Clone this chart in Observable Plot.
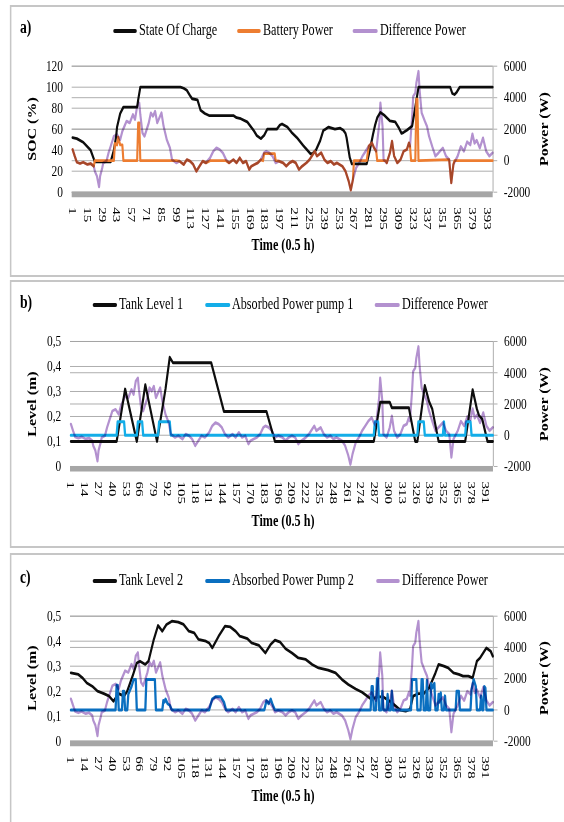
<!DOCTYPE html>
<html><head><meta charset="utf-8">
<script src="https://cdn.jsdelivr.net/npm/d3@7"></script>
<script src="https://cdn.jsdelivr.net/npm/@observablehq/plot@0.6"></script>
<style>
html,body{margin:0;padding:0;background:#fff;width:564px;height:822px;overflow:hidden;}
#wrap{position:absolute;left:0;top:0;width:742px;height:822px;transform:scaleX(0.76);transform-origin:0 0;font-family:"Liberation Serif","Times New Roman",serif;color:#000;}
.box{position:absolute;border:2px solid #c6c6c6;box-sizing:border-box;}
.abs{position:absolute;white-space:nowrap;}
.leg{position:absolute;height:4px;border-radius:2px;}
.lt{position:absolute;white-space:nowrap;font-size:16px;line-height:18px;}
.ttl{position:absolute;white-space:nowrap;font-weight:bold;font-size:16px;line-height:18px;}
</style></head>
<body><div id="wrap"></div>
<script>
// ---------------- data ----------------
const xTicksA = [1,15,29,43,57,71,85,99,113,127,141,155,169,183,197,211,225,239,253,267,281,295,309,323,337,351,365,379,393];
const xTicksBC = [1,14,27,40,53,66,79,92,105,118,131,144,157,170,183,196,209,222,235,248,261,274,287,300,313,326,339,352,365,378,391];
const socTicks = [0,20,40,60,80,100,120];
const levelTicks = [0,0.1,0.2,0.3,0.4,0.5];
const powerTicks = [-2000,0,2000,4000,6000];

// Difference Power (W), shared by the three panels
const diffPower = [[1,710],[3,290],[5,-100],[8,-180],[11,-100],[15,-240],[18,-180],[21,-350],[22,-670],[24,-980],[26,-1660],[27,-980],[29,-460],[30,-140],[33,-30],[35,500],[37,920],[40,1550],[43,1660],[46,1340],[48,1870],[50,2190],[52,2510],[55,2400],[58,2930],[60,2610],[62,3460],[64,3670],[65,2930],[67,1770],[69,1550],[73,2400],[75,3040],[77,2820],[79,3140],[81,2400],[83,2720],[85,3040],[87,2190],[90,1340],[93,810],[95,70],[99,-140],[102,-30],[106,-240],[109,70],[112,-30],[115,-240],[118,-670],[121,-350],[124,-30],[127,-140],[131,180],[134,600],[137,810],[140,710],[143,500],[146,70],[149,-140],[153,70],[156,-140],[159,180],[162,-140],[165,-30],[168,-560],[170,-350],[173,-240],[176,-140],[179,70],[182,500],[184,600],[187,500],[190,290],[193,-140],[196,-30],[200,-140],[203,-350],[206,-140],[209,-30],[212,-140],[215,-560],[218,-350],[222,-140],[225,70],[228,390],[230,600],[232,290],[236,500],[239,70],[242,-140],[245,-30],[248,-240],[251,-140],[256,-350],[259,-670],[262,-1300],[264,-1870],[266,-1200],[269,-460],[272,-140],[275,290],[278,600],[281,920],[284,1130],[286,810],[288,600],[291,2400],[292,3670],[294,2190],[295,70],[298,-140],[301,500],[303,1240],[305,290],[308,-140],[311,70],[314,600],[317,710],[319,1130],[320,920],[322,2820],[323,4090],[325,4310],[326,4940],[328,5680],[329,4520],[331,3040],[334,2510],[336,2190],[338,1550],[341,900],[344,290],[347,500],[351,810],[354,290],[357,70],[359,-1410],[361,-240],[365,290],[368,900],[371,600],[374,1200],[377,1000],[379,1700],[381,1100],[383,1300],[386,800],[389,1450],[392,600],[395,290],[398,500]];

// a) State of charge (%)
const soc = [[1,52],[5,51],[11,47.6],[18,40],[22,29],[37,29],[40,40],[42,52],[43,62],[46,75],[49,81],[62,81],[63,88],[65,100],[103,100],[106,99],[109,97],[112,92],[114,89],[119,88],[122,78],[126,75],[130,73],[147,73],[153,73],[156,71],[160,70],[166,67],[172,59],[175,54],[179,51],[182,54],[185,60],[194,60],[197,64],[199,65],[204,62],[208,57],[213,52],[219,44.5],[226,36.5],[228,37],[231,40],[235,49],[238,58.7],[240,60],[243,62],[249,60],[254,61],[257,59],[259,56],[260,52],[263,33],[265,27],[279,27],[282,40],[285,55],[287,64],[289,71],[292,76],[296,73],[301,68],[306,67],[309,62],[312,56],[314,57],[317,59],[322,63],[325,81],[328,100],[358,100],[360,94],[362,93],[364,95],[367,100],[398,100]];

// a) Battery power (W)
const batteryPower = [[1,710],[3,290],[5,-100],[8,-180],[11,-100],[15,-240],[18,-180],[21,-350],[22,0],[40,0],[41,1100],[43,1000],[44,1500],[46,1000],[48,1000],[49,0],[62,0],[63,2400],[64,2400],[65,0],[99,0],[102,-30],[106,-240],[109,70],[112,-30],[115,-240],[118,-670],[121,-350],[124,-30],[127,-140],[131,0],[146,0],[149,-140],[153,70],[156,-140],[159,180],[162,-140],[165,-30],[168,-560],[170,-350],[173,-240],[176,-140],[179,70],[181,0],[182,450],[192,450],[193,0],[196,-30],[200,-140],[203,-350],[206,-140],[209,-30],[212,-140],[215,-560],[218,-350],[222,-140],[225,70],[228,390],[230,600],[232,290],[236,500],[239,70],[242,-140],[245,-30],[248,-240],[251,-140],[256,-350],[259,-670],[262,-1300],[264,-1870],[266,-1200],[267,0],[279,0],[281,920],[284,1130],[286,810],[288,600],[289,0],[297,0],[298,-140],[301,500],[303,1240],[305,290],[308,-140],[311,70],[314,600],[317,710],[319,1130],[320,920],[321,0],[325,0],[326,3900],[327,3900],[328,0],[357,70],[359,-1410],[361,-240],[362,0],[398,0]];

// b) Tank level 1 (m) and pump 1 power (W)
const tank1 = [[1,0.1],[44,0.1],[52,0.31],[63,0.1],[71,0.327],[82,0.1],[90,0.31],[94,0.437],[97,0.415],[133,0.415],[145,0.22],[185,0.22],[193,0.1],[286,0.1],[292,0.257],[301,0.257],[303,0.235],[319,0.235],[325,0.1],[327,0.1],[334,0.324],[338,0.26],[341,0.23],[347,0.1],[372,0.1],[379,0.307],[383,0.23],[385,0.204],[388,0.19],[393,0.1],[398,0.1]];
const pump1 = [[1,0],[44,0],[45,870],[51,870],[52,0],[63,0],[64,870],[68,870],[69,0],[83,0],[84,870],[94,870],[95,0],[286,0],[287,870],[290,870],[291,0],[327,0],[328,870],[333,870],[334,0],[351,0],[352,870],[353,0],[372,0],[373,870],[377,870],[378,0],[398,0]];

// c) Tank level 2 (m) and pump 2 power (W)
const tank2 = [[1,0.273],[8,0.267],[12,0.253],[16,0.233],[21,0.22],[26,0.2],[32,0.19],[37,0.18],[41,0.16],[46,0.19],[51,0.18],[54,0.2],[59,0.26],[63,0.313],[66,0.32],[71,0.307],[74,0.32],[79,0.407],[83,0.463],[87,0.44],[91,0.467],[96,0.48],[102,0.476],[107,0.467],[112,0.44],[117,0.433],[121,0.407],[128,0.4],[131,0.393],[134,0.373],[140,0.42],[146,0.46],[151,0.457],[156,0.44],[160,0.42],[167,0.41],[171,0.393],[178,0.383],[184,0.353],[189,0.387],[193,0.404],[198,0.396],[203,0.37],[209,0.353],[215,0.333],[222,0.327],[228,0.307],[234,0.293],[243,0.284],[250,0.273],[256,0.247],[262,0.227],[269,0.209],[275,0.196],[280,0.18],[284,0.167],[289,0.177],[295,0.177],[301,0.16],[306,0.143],[311,0.124],[316,0.12],[320,0.127],[323,0.18],[328,0.19],[333,0.19],[338,0.213],[344,0.273],[347,0.307],[352,0.3],[356,0.293],[361,0.273],[366,0.267],[370,0.26],[375,0.26],[379,0.253],[383,0.32],[386,0.333],[389,0.353],[392,0.373],[396,0.36],[398,0.34]];
const pump2 = [[1,0],[43,0],[44,1580],[45,1580],[46,0],[49,0],[50,1200],[51,1200],[52,0],[54,0],[55,1000],[58,1500],[60,1950],[62,1950],[63,0],[71,0],[72,1950],[80,1950],[81,0],[87,0],[88,600],[89,500],[90,700],[92,400],[94,300],[96,0],[131,0],[134,700],[137,840],[142,840],[145,500],[147,0],[183,0],[185,600],[187,400],[189,700],[191,300],[193,0],[283,0],[284,1500],[285,1500],[286,0],[288,0],[289,2000],[290,2000],[291,0],[293,0],[294,1200],[295,0],[298,0],[299,1000],[300,0],[302,0],[303,1200],[304,0],[321,0],[322,1950],[326,1950],[327,0],[330,0],[331,1950],[332,1950],[333,0],[335,0],[336,1900],[337,0],[339,0],[340,1700],[341,1400],[343,1700],[344,0],[346,0],[347,1000],[348,500],[349,1100],[350,0],[352,0],[353,900],[354,0],[363,0],[364,1200],[366,1200],[367,0],[377,0],[378,1300],[380,1950],[382,1500],[383,0],[386,0],[387,900],[388,0],[389,0],[390,1500],[391,1400],[392,0],[398,0]];

// ---------------- layout ----------------
const SX = 0.76, W = 564 / SX;
const ux = x => x / SX;
const xDomain = [0.5, 398.5];
const GRID = "#a3a3a3";
const C = {black:"#0d0d0d", orange:"#ED7D31", purple:"#B391CF", cyan:"#13ADE8", blue:"#0A6FC0"};

const wrap = document.getElementById("wrap");
function el(cls, css, html) {
  const d = document.createElement("div");
  d.className = cls; d.style.cssText = css; if (html != null) d.innerHTML = html;
  wrap.appendChild(d); return d;
}

const panels = [
  {tag:"a)", boxTop:5, boxH:272, tagY:27, legY:31,
   legend:[["State Of Charge",C.black,113,137,139],["Battery Power",C.orange,237,261,263],["Difference Power",C.purple,353,378,380]],
   leftTitle:"SOC (%)", svgTop:40, svgH:200, fTop:65.7, fBot:191.7, left:71.7, right:492.7,
   yMax:120, leftTicks:socTicks, leftFmt:d=>String(d), xTicks:xTicksA, timeY:245},
  {tag:"b)", boxTop:280, boxH:268, tagY:302, legY:305,
   legend:[["Tank Level 1",C.black,93,117,119],["Absorbed Power pump 1",C.cyan,205,230,232],["Difference Power",C.purple,375,400,402]],
   leftTitle:"Level (m)", svgTop:320, svgH:190, fTop:341, fBot:466, left:70, right:493,
   yMax:0.5, leftTicks:levelTicks, leftFmt:d=>d===0?"0":d.toFixed(1).replace(".",","), xTicks:xTicksBC, timeY:521},
  {tag:"c)", boxTop:553, boxH:290, tagY:577, legY:581,
   legend:[["Tank Level 2",C.black,93,117,119],["Absorbed Power Pump 2",C.blue,205,230,232],["Difference Power",C.purple,376,400,402]],
   leftTitle:"Level (m)", svgTop:595, svgH:190, fTop:615.7, fBot:740.7, left:70, right:493,
   yMax:0.5, leftTicks:levelTicks, leftFmt:d=>d===0?"0":d.toFixed(1).replace(".",","), xTicks:xTicksBC, timeY:796}
];

panels.forEach((p, k) => {
  el("box", `left:${ux(10)}px;top:${p.boxTop}px;width:${W+20}px;height:${p.boxH}px;`);
  el("ttl", `left:${ux(20)}px;top:${p.tagY-10}px;font-size:18px;line-height:20px;`, p.tag);
  p.legend.forEach(([name, col, x1, x2, tx]) => {
    el("leg", `left:${ux(x1)}px;top:${p.legY-2}px;width:${ux(x2)-ux(x1)}px;background:${col};`);
    el("lt", `left:${ux(tx)}px;top:${p.legY-10}px;`, name);
  });
  const cy = (p.fTop + p.fBot) / 2;
  el("ttl", `left:${ux(32)-60}px;top:${cy-9}px;width:120px;text-align:center;transform:rotate(-90deg);`, p.leftTitle);
  el("ttl", `left:${ux(544)-60}px;top:${cy-9}px;width:120px;text-align:center;transform:rotate(-90deg);`, "Power (W)");
  el("ttl", `left:${ux(283)-80}px;top:${p.timeY-9}px;width:160px;text-align:center;`, "Time (0.5 h)");

  const toLeft = P => (P + 2000) / 8000 * p.yMax;
  const rightTicks = powerTicks.map(toLeft);
  const line = (data, stroke, extra = {}) => Plot.line(data, {x: d => d[0], y: d => extra.power ? toLeft(d[1]) : d[1], stroke, strokeWidth: 2.8, strokeLinejoin: "round", strokeLinecap: "round", ...extra.opts});

  let series;
  if (k === 0) {
    series = [
      line(soc, C.black),
      line(batteryPower, C.orange, {power:true}),
      line(diffPower, C.purple, {power:true, opts:{mixBlendMode:"multiply"}})
    ];
  } else if (k === 1) {
    series = [
      line(tank1, C.black),
      line(pump1, C.cyan, {power:true, opts:{strokeWidth:3}}),
      line(diffPower, C.purple, {power:true, opts:{mixBlendMode:"multiply"}})
    ];
  } else {
    series = [
      line(tank2, C.black),
      line(pump2, C.blue, {power:true, opts:{strokeWidth:3}}),
      line(diffPower, C.purple, {power:true, opts:{mixBlendMode:"multiply"}})
    ];
  }

  const svg = Plot.plot({
    width: W, height: p.svgH,
    marginTop: p.fTop - p.svgTop, marginBottom: p.svgTop + p.svgH - p.fBot,
    marginLeft: ux(p.left), marginRight: W - ux(p.right),
    style: {fontFamily: "'Liberation Serif','Times New Roman',serif", fontSize: "15px", background: "transparent", overflow: "visible", color: "#000"},
    x: {domain: xDomain, axis: null},
    y: {domain: [0, p.yMax]},
    marks: [
      Plot.gridY(p.leftTicks, {stroke: GRID, strokeOpacity: 1}),
      Plot.gridY(rightTicks, {stroke: GRID, strokeOpacity: 1}),
      Plot.ruleY([0], {stroke: "#a6a6a6", strokeWidth: 5.5, dy: 2.2}),
      Plot.ruleX([xDomain[1]], {stroke: GRID}),
      Plot.axisY(p.leftTicks, {anchor: "left", tickSize: 0, tickPadding: 12, tickFormat: p.leftFmt, fontSize: 15}),
      Plot.axisY(rightTicks, {anchor: "right", tickSize: 5, tickPadding: 9, stroke: GRID, fill: "#000", fontSize: 15,
        tickFormat: d => String(Math.round(d / p.yMax * 8000 - 2000))}),
      Plot.text(p.xTicks, {x: d => d, text: d => String(d), frameAnchor: "bottom", rotate: 90, textAnchor: "start", lineAnchor: "middle", dy: 15, fontSize: 15, fill: "#000"}),
      ...series
    ]
  });
  const holder = el("abs", `left:0;top:${p.svgTop}px;width:${W}px;height:${p.svgH}px;`);
  holder.appendChild(svg);
});
</script>
</body></html>
